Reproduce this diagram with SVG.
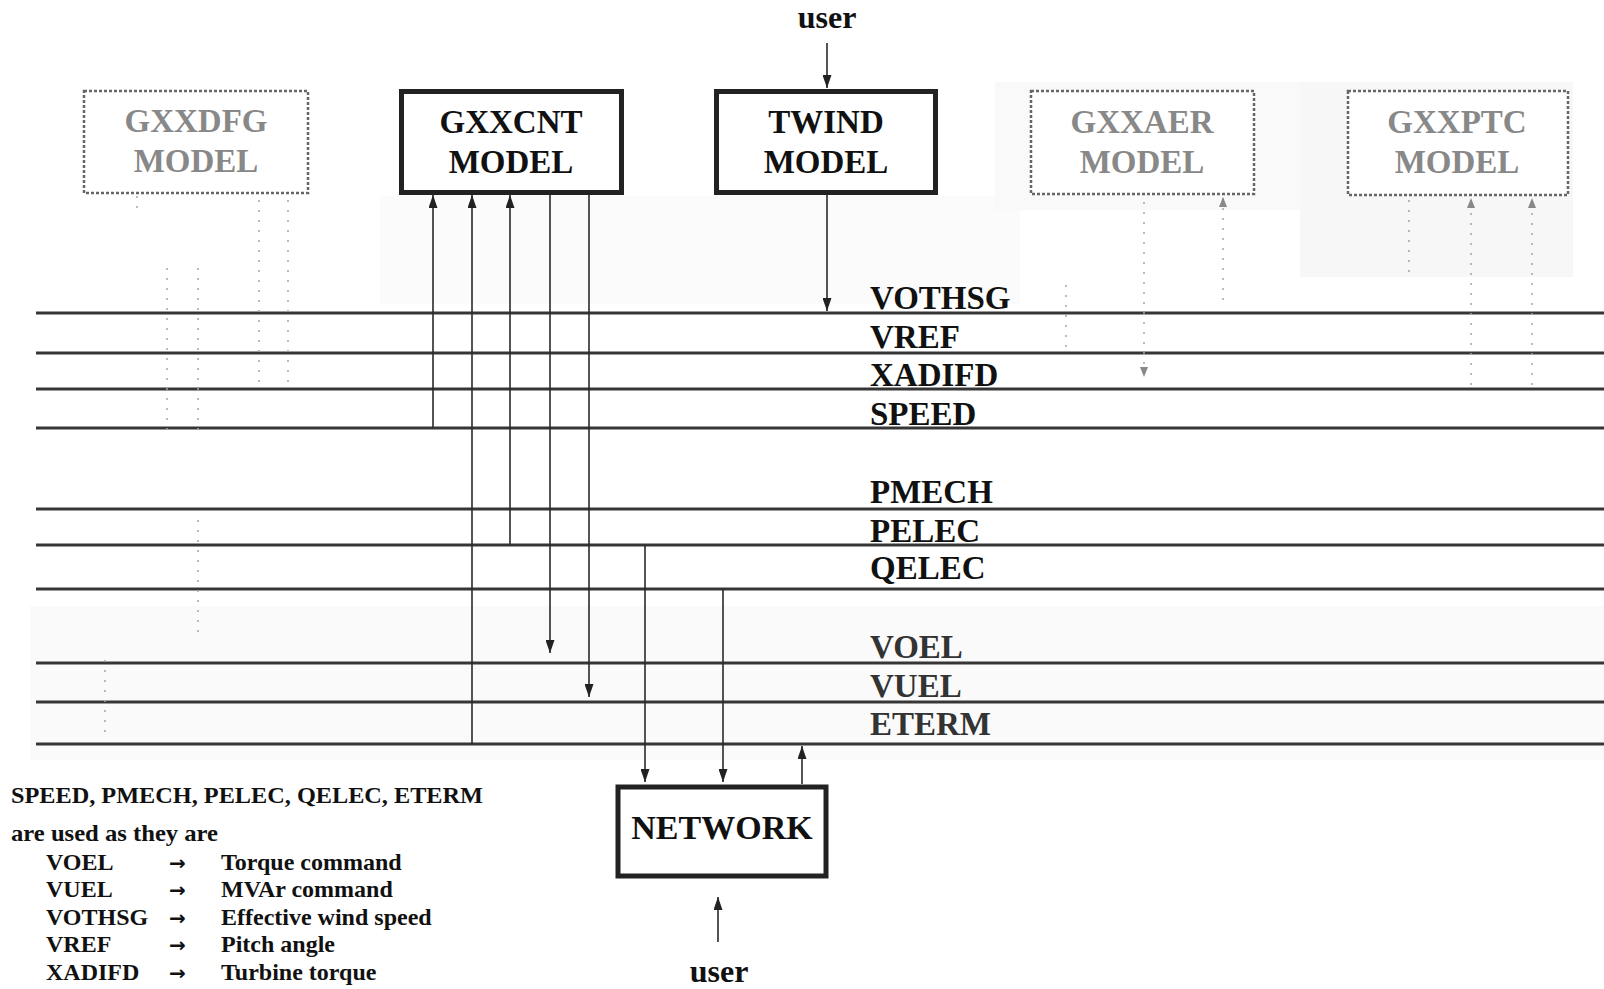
<svg xmlns="http://www.w3.org/2000/svg" width="1604" height="989" viewBox="0 0 1604 989">
<style>
.bus{stroke:#363636;stroke-width:3;fill:none}
.box{fill:#fff;stroke:#222;stroke-width:5}
.ghostbox{fill:#fff;stroke:#666;stroke-width:2.5;stroke-dasharray:3 2}
.t{font-family:"Liberation Serif","DejaVu Serif",serif;font-weight:bold;fill:#111}
.bt{font-size:33px;text-anchor:middle}
.lbl{font-size:33px}
.leg{font-size:24px}
.arr{font-family:"DejaVu Sans",sans-serif;font-size:20px;font-weight:bold;fill:#111}
.gt{font-family:"Liberation Serif","DejaVu Serif",serif;font-weight:bold;font-size:33px;text-anchor:middle;fill:#888}
.con{stroke:#2a2a2a;stroke-width:1.6;fill:none}
.ghost{stroke:#a5a5a5;stroke-width:1.5;fill:none;stroke-dasharray:2 8}
</style>
<defs>
<marker id="ah" viewBox="0 0 13 9" refX="13" refY="4.5" markerWidth="13" markerHeight="9" markerUnits="userSpaceOnUse" orient="auto">
<path d="M0,0 L13,4.5 L0,9 z" fill="#222"/>
</marker>
<marker id="gah" viewBox="0 0 10 8" refX="10" refY="4" markerWidth="10" markerHeight="8" markerUnits="userSpaceOnUse" orient="auto">
<path d="M0,0 L10,4 L0,8 z" fill="#888"/>
</marker>
</defs>
<rect x="0" y="0" width="1604" height="989" fill="#fff"/>
<g id="background">
<rect x="380" y="196" width="640" height="108" fill="#fbfbfb"/>
<rect x="995" y="82" width="305" height="128" fill="#f9f9f9"/>
<rect x="1300" y="82" width="273" height="195" fill="#f7f7f7"/>
<rect x="30" y="606" width="1574" height="154" fill="#fafafa"/>
</g>
<g id="buses">
<line class="bus" x1="36" y1="313" x2="1604" y2="313"/>
<line class="bus" x1="36" y1="353" x2="1604" y2="353"/>
<line class="bus" x1="36" y1="389" x2="1604" y2="389"/>
<line class="bus" x1="36" y1="428" x2="1604" y2="428"/>
<line class="bus" x1="36" y1="509" x2="1604" y2="509"/>
<line class="bus" x1="36" y1="545" x2="1604" y2="545"/>
<line class="bus" x1="36" y1="589" x2="1604" y2="589"/>
<line class="bus" x1="36" y1="663" x2="1604" y2="663"/>
<line class="bus" x1="36" y1="702" x2="1604" y2="702"/>
<line class="bus" x1="36" y1="744" x2="1604" y2="744"/>
</g>
<g id="bus-labels" class="t lbl">
<text x="870" y="309">VOTHSG</text>
<text x="870" y="348">VREF</text>
<text x="870" y="386">XADIFD</text>
<text x="870" y="425">SPEED</text>
<text x="870" y="503">PMECH</text>
<text x="870" y="542">PELEC</text>
<text x="870" y="579">QELEC</text>
<text x="870" y="658" fill="#333">VOEL</text>
<text x="870" y="697" fill="#333">VUEL</text>
<text x="870" y="735" fill="#333">ETERM</text>
</g>
<g id="ghost-connectors">
<line class="ghost" x1="167" y1="268" x2="167" y2="430"/>
<line class="ghost" x1="198" y1="268" x2="198" y2="432"/>
<line class="ghost" x1="198" y1="520" x2="198" y2="640"/>
<line class="ghost" x1="259" y1="200" x2="259" y2="390"/>
<line class="ghost" x1="288" y1="200" x2="288" y2="390"/>
<line class="ghost" x1="105" y1="660" x2="105" y2="740"/>
<line class="ghost" x1="137" y1="196" x2="137" y2="212"/>
<line class="ghost" x1="1144" y1="202" x2="1144" y2="377" marker-end="url(#gah)"/>
<line class="ghost" x1="1223" y1="300" x2="1223" y2="197" marker-end="url(#gah)"/>
<line class="ghost" x1="1066" y1="285" x2="1066" y2="352"/>
<line class="ghost" x1="1409" y1="200" x2="1409" y2="277" stroke="#c8c8c8"/>
<line class="ghost" x1="1471" y1="385" x2="1471" y2="198" marker-end="url(#gah)"/>
<line class="ghost" x1="1532" y1="385" x2="1532" y2="198" marker-end="url(#gah)"/>
</g>
<g id="connectors">
<line class="con" x1="827" y1="43" x2="827" y2="88" marker-end="url(#ah)"/>
<line class="con" x1="827" y1="195" x2="827" y2="311" marker-end="url(#ah)"/>
<line class="con" x1="433" y1="428" x2="433" y2="195" marker-end="url(#ah)"/>
<line class="con" x1="472" y1="744" x2="472" y2="195" marker-end="url(#ah)"/>
<line class="con" x1="510" y1="545" x2="510" y2="195" marker-end="url(#ah)"/>
<line class="con" x1="550" y1="195" x2="550" y2="653" marker-end="url(#ah)"/>
<line class="con" x1="589" y1="195" x2="589" y2="697" marker-end="url(#ah)"/>
<line class="con" x1="645" y1="545" x2="645" y2="782" marker-end="url(#ah)"/>
<line class="con" x1="723" y1="589" x2="723" y2="782" stroke-width="2.4" marker-end="url(#ah)"/>
<line class="con" x1="802" y1="784" x2="802" y2="746" marker-end="url(#ah)"/>
<line class="con" x1="718" y1="942" x2="718" y2="897" marker-end="url(#ah)"/>
</g>
<g id="gxxdfg">
<rect class="ghostbox" x="84" y="91" width="224" height="102" stroke="#777"/>
<text class="gt" x="196" y="132" fill="#9a9a9a">GXXDFG</text>
<text class="gt" x="196" y="172" fill="#9a9a9a">MODEL</text>
</g>
<g id="gxxcnt">
<rect class="box" x="401.5" y="91.5" width="220" height="101"/>
<text class="t bt" x="511" y="133">GXXCNT</text>
<text class="t bt" x="511" y="173">MODEL</text>
</g>
<g id="twind">
<rect class="box" x="716.5" y="91.5" width="219" height="101"/>
<text class="t bt" x="826" y="133">TWIND</text>
<text class="t bt" x="826" y="173">MODEL</text>
</g>
<g id="gxxaer">
<rect class="ghostbox" x="1031" y="91" width="223" height="103"/>
<text class="gt" x="1142" y="133" fill="#6a6a6a">GXXAER</text>
<text class="gt" x="1142" y="173" fill="#8a8a8a">MODEL</text>
</g>
<g id="gxxptc">
<rect class="ghostbox" x="1348" y="91" width="220" height="104"/>
<text class="gt" x="1457" y="133" fill="#a5a5a5">GXXPTC</text>
<text class="gt" x="1457" y="173" fill="#a5a5a5">MODEL</text>
</g>
<g id="network">
<rect class="box" x="618" y="787" width="208" height="89" stroke-width="6"/>
<text class="t" x="722" y="839" font-size="34" text-anchor="middle">NETWORK</text>
</g>
<g id="user-top">
<text class="t" x="827" y="28" font-size="32" text-anchor="middle">user</text>
</g>
<g id="user-bottom">
<text class="t" x="719" y="982" font-size="32" text-anchor="middle">user</text>
</g>
<g id="legend" class="t leg">
<text x="11" y="803" textLength="472" lengthAdjust="spacingAndGlyphs">SPEED, PMECH, PELEC, QELEC, ETERM</text>
<text x="11" y="841" textLength="207" lengthAdjust="spacingAndGlyphs">are used as they are</text>
<text x="46" y="870">VOEL</text>
<text x="46" y="897">VUEL</text>
<text x="46" y="925">VOTHSG</text>
<text x="46" y="952">VREF</text>
<text x="46" y="980">XADIFD</text>
<text class="arr" x="169" y="870">→</text>
<text class="arr" x="169" y="897">→</text>
<text class="arr" x="169" y="925">→</text>
<text class="arr" x="169" y="952">→</text>
<text class="arr" x="169" y="980">→</text>
<text x="221" y="870">Torque command</text>
<text x="221" y="897">MVAr command</text>
<text x="221" y="925">Effective wind speed</text>
<text x="221" y="952">Pitch angle</text>
<text x="221" y="980">Turbine torque</text>
</g>
</svg>
